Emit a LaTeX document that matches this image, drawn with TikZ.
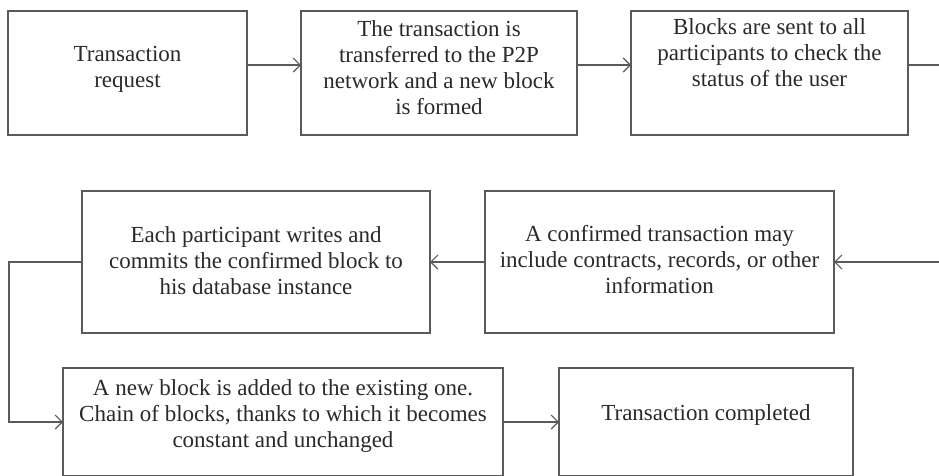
\documentclass[tikz,border=0pt]{standalone}
\usepackage{fontspec}
\setmainfont{Liberation Serif}
\usepackage{xcolor}
\usepackage{tikz}
\usetikzlibrary{arrows.meta}
\definecolor{lineColor}{HTML}{5A5A5A}
\definecolor{textColor}{HTML}{2A2A2A}
\tikzset{
	stepbox/.style = {draw = lineColor, line width = 1.6pt, fill = white, inner sep = 0pt, outer sep = 0pt},
	steptext/.style = {align = center, text = textColor, inner sep = 0pt, font = \fontsize{23}{26}\selectfont},
	flowarrow/.style = {draw = lineColor, line width = 1.6pt, -{Straight Barb[length = 7pt, width = 14pt, line width = 1.2pt]}}
}
\newcommand{\stepNode}[7]{
	\node[below right, stepbox, minimum width = #4, minimum height = #5] (#1) at (#2, #3) {};
	\node[steptext] (#1Text) at ([yshift = #6]#1.center) {#7};
}
\begin{document}
\begin{tikzpicture}[x = 1pt, y = -1pt]%
		\useasboundingbox (0, 0) rectangle (939, 475);

		% top row
		\stepNode{request}{8}{11}{239pt}{124pt}{3.5pt}{Transaction\\request}
		\stepNode{network}{301}{11}{276pt}{124pt}{5pt}{The transaction is\\transferred to the P2P\\network and a new block\\is formed}
		\stepNode{check}{631}{11}{277pt}{124pt}{20pt}{Blocks are sent to all\\participants to check the\\status of the user}

		% middle row
		\stepNode{commit}{82}{191}{348pt}{142pt}{1pt}{Each participant writes and\\commits the confirmed block to\\his database instance}
		\stepNode{confirmed}{485}{191}{349pt}{142pt}{2pt}{A confirmed transaction may\\include contracts, records, or other\\information}

		% bottom row
		\stepNode{chain}{63}{368}{440pt}{108pt}{6pt}{A new block is added to the existing one.\\Chain of blocks, thanks to which it becomes\\constant and unchanged}
		\stepNode{completed}{559}{368}{294pt}{108pt}{7pt}{Transaction completed}

		% turning points
		\coordinate (rightTurn) at (975, 150);
		\coordinate (leftTurn) at (9, 340);

		\draw[flowarrow] ([yshift = 8pt]request.east) -- ([yshift = 8pt]network.west);
		\draw[flowarrow] ([yshift = 8pt]network.east) -- ([yshift = 8pt]check.west);
		\draw[flowarrow] ([yshift = 8pt]check.east) -| (rightTurn) |- (confirmed.east);
		\draw[flowarrow] (confirmed.west) -- (commit.east);
		\draw[flowarrow] (commit.west) -| (leftTurn) |- (chain.west);
		\draw[flowarrow] (chain.east) -- (completed.west);
	\end{tikzpicture}
\end{document}
